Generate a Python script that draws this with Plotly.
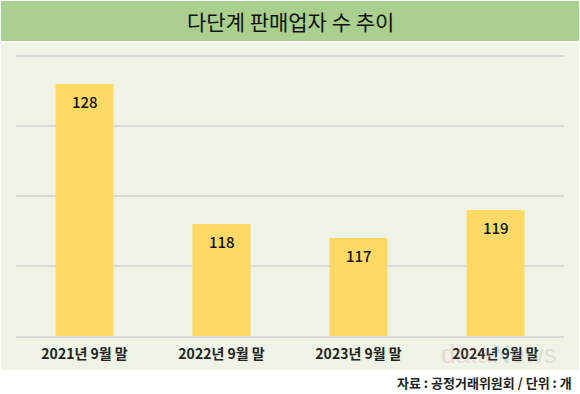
import plotly.graph_objects as go

categories = ["2021년 9월 말", "2022년 9월 말", "2023년 9월 말", "2024년 9월 말"]
values = [128, 118, 117, 119]
title_text = "다단계 판매업자 수 추이"
source_text = "자료 : 공정거래위원회 / 단위 : 개"

W, H = 580, 394
L, R, T, B = 16, 16, 42, 58
PW, PH = W - L - R, H - T - B

def px(x):
    return (x - L) / PW

def py(y):
    return (H - B - y) / PH

FONT = "Noto Sans CJK KR"
BAR = "#ffd966"
GREEN = "#a9d08e"
PANEL = "#eef3e5"
GRID = "#d9d9d9"

fig = go.Figure()
fig.add_trace(go.Bar(
    x=categories, y=values,
    marker=dict(color=BAR, line=dict(width=0)),
    hoverinfo="skip",
))

for c, v in zip(categories, values):
    fig.add_annotation(x=c, y=v, text=str(v), showarrow=False,
                       yshift=-17, yanchor="middle",
                       font=dict(family=FONT, size=15, color="#111111", weight=500))

shapes = [
    dict(type="rect", xref="paper", yref="paper", x0=px(1), x1=px(579), y0=py(370), y1=py(43),
         fillcolor=PANEL, line=dict(width=0), layer="below"),
    dict(type="rect", xref="paper", yref="paper", x0=px(1), x1=px(579), y0=py(41), y1=py(1),
         fillcolor=GREEN, line=dict(width=0), layer="below"),
]

fig.add_annotation(xref="paper", yref="paper", x=px(290), y=py(21), text=title_text,
                   showarrow=False, xanchor="center", yanchor="middle",
                   font=dict(family=FONT, size=21, color="#111111", weight=400))
fig.add_annotation(xref="paper", yref="paper", x=px(574), y=py(382), text=source_text,
                   showarrow=False, xanchor="right", yanchor="middle",
                   font=dict(family=FONT, size=13, color="#222222", weight="bold"))
fig.add_annotation(xref="paper", yref="paper", x=px(499), y=py(354),
                   text="<span style='color:rgba(220,110,110,0.22)'>d</span>"
                        "<span style='color:rgba(225,140,140,0.2)'>ata</span>"
                        "<span style='color:rgba(90,150,210,0.25)'>N</span>"
                        "<span style='color:rgba(140,140,140,0.2)'>ews</span>",
                   showarrow=False, xanchor="center", yanchor="middle",
                   font=dict(family="Liberation Sans", size=26))

fig.update_layout(
    width=W, height=H,
    margin=dict(l=L, r=R, t=T, b=B, pad=0),
    paper_bgcolor="white",
    plot_bgcolor="rgba(0,0,0,0)",
    shapes=shapes,
    bargap=0.577,
    showlegend=False,
    xaxis=dict(showgrid=False, showline=True, linecolor=GRID, linewidth=1.5,
               ticks="", ticklabelstandoff=4,
               tickfont=dict(family=FONT, size=14, color="#222222", weight="bold"),
               fixedrange=True),
    yaxis=dict(range=[110, 131], dtick=5, tick0=110, showgrid=True, gridcolor=GRID,
               gridwidth=1.5, showticklabels=False, zeroline=False, showline=False,
               ticks="", fixedrange=True),
)

fig.write_html("out.html", config={"displayModeBar": False},
               post_script="document.body.style.margin='0';document.body.style.overflow='hidden';")
